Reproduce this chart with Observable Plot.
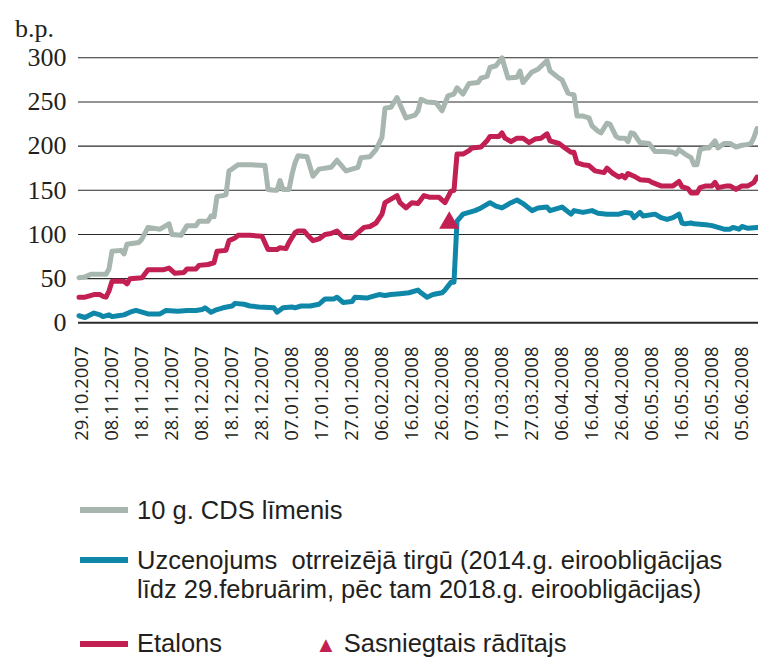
<!DOCTYPE html>
<html>
<head>
<meta charset="utf-8">
<script src="https://cdn.jsdelivr.net/npm/d3@7"></script>
<script src="https://cdn.jsdelivr.net/npm/@observablehq/plot@0.6"></script>
<style>
  html, body { margin: 0; padding: 0; background: #fff; }
  #wrap { position: relative; width: 758px; height: 658px; overflow: hidden; background: #fff; }
  #chart { position: absolute; left: 0; top: 0; }
  .unit { position: absolute; left: 15px; top: 14px; font-family: "Liberation Serif", serif; font-size: 26px; color: #231f20; }
  .lg { position: absolute; font-family: "Liberation Sans", Arial, sans-serif; font-size: 25.5px; height: 28px; line-height: 28px; color: #231f20; white-space: nowrap; }
  .sw { position: absolute; left: 80px; width: 48px; height: 6px; }
</style>
</head>
<body>
<div id="wrap">
  <div id="chart"></div>
  <div class="unit">b.p.</div>
  <div class="sw" style="top:507px;background:#a7b6ae"></div>
  <div class="lg" style="left:137px;top:496px">10 g. CDS līmenis</div>
  <div class="sw" style="top:557px;background:#0f87a9"></div>
  <div class="lg" style="left:137px;top:546px">Uzcenojums&nbsp; otrreizējā tirgū (2014.g. eiroobligācijas</div>
  <div class="lg" style="left:137px;top:575px">līdz 29.februārim, pēc tam 2018.g. eiroobligācijas)</div>
  <div class="sw" style="top:641px;background:#c21f52"></div>
  <div class="lg" style="left:137px;top:630px;height:26px;line-height:26px">Etalons</div>
  <div class="lg" style="left:315px;top:630px;height:26px;line-height:26px"><span style="color:#c21f52;font-size:22px">▲</span> Sasniegtais rādītajs</div>
</div>
<script>
const yTicks = [0, 50, 100, 150, 200, 250, 300];
const xTicks = ["2007-10-29","2007-11-08","2007-11-18","2007-11-28","2007-12-08","2007-12-18","2007-12-28",
  "2008-01-07","2008-01-17","2008-01-27","2008-02-06","2008-02-16","2008-02-26","2008-03-07","2008-03-17",
  "2008-03-27","2008-04-06","2008-04-16","2008-04-26","2008-05-06","2008-05-16","2008-05-26","2008-06-05"];

const cds = [
["2007-10-26",51],["2007-10-28",52],["2007-10-30",55],["2007-11-04",55],["2007-11-05",61],["2007-11-06",81],
["2007-11-09",82],["2007-11-10",78],["2007-11-11",89],["2007-11-15",91],["2007-11-16",95],["2007-11-18",108],
["2007-11-22",106],["2007-11-25",112],["2007-11-26",100],["2007-11-29",99],["2007-12-01",110],["2007-12-04",110],
["2007-12-05",115],["2007-12-08",115],["2007-12-09",121],["2007-12-10",120],["2007-12-11",143],["2007-12-13",144],
["2007-12-14",145],["2007-12-15",172],["2007-12-16",174],["2007-12-18",179],["2007-12-22",179],["2007-12-27",178],
["2007-12-28",151],["2007-12-30",150],["2007-12-31",150],["2008-01-01",161],["2008-01-02",151],["2008-01-04",151],
["2008-01-05",168],["2008-01-06",181],["2008-01-07",189],["2008-01-10",188],["2008-01-12",166],["2008-01-14",174],
["2008-01-18",176],["2008-01-20",184],["2008-01-23",172],["2008-01-27",176],["2008-01-28",187],["2008-01-31",188],
["2008-02-02",196],["2008-02-04",210],["2008-02-05",243],["2008-02-07",244],["2008-02-09",255],["2008-02-10",247],
["2008-02-12",232],["2008-02-15",235],["2008-02-16",240],["2008-02-17",253],["2008-02-19",250],["2008-02-22",249],
["2008-02-24",240],["2008-02-26",257],["2008-02-28",259],["2008-02-29",266],["2008-03-02",259],["2008-03-04",271],
["2008-03-07",272],["2008-03-08",277],["2008-03-10",279],["2008-03-11",289],["2008-03-13",291],["2008-03-15",300],
["2008-03-17",277],["2008-03-20",278],["2008-03-21",285],["2008-03-22",272],["2008-03-25",284],["2008-03-27",287],
["2008-03-30",297],["2008-03-31",285],["2008-04-03",277],["2008-04-04",275],["2008-04-06",260],["2008-04-08",258],
["2008-04-09",234],["2008-04-11",234],["2008-04-13",232],["2008-04-14",223],["2008-04-16",217],["2008-04-17",215],
["2008-04-19",226],["2008-04-20",225],["2008-04-22",211],["2008-04-23",209],["2008-04-25",209],["2008-04-26",205],
["2008-04-27",215],["2008-04-28",214],["2008-04-30",204],["2008-05-03",203],["2008-05-05",194],["2008-05-08",194],
["2008-05-11",193],["2008-05-12",191],["2008-05-13",196],["2008-05-15",191],["2008-05-17",187],["2008-05-18",179],
["2008-05-19",179],["2008-05-20",196],["2008-05-22",198],["2008-05-23",198],["2008-05-25",206],["2008-05-26",198],
["2008-05-28",203],["2008-05-30",203],["2008-06-01",199],["2008-06-03",201],["2008-06-05",202],["2008-06-06",203],
["2008-06-07",210],["2008-06-08",220]
];

const etalons = [
["2007-10-26",29],["2007-10-28",29],["2007-10-31",32],["2007-11-02",32],["2007-11-03",30],["2007-11-04",29],
["2007-11-05",36],["2007-11-06",47],["2007-11-10",47],["2007-11-11",44],["2007-11-12",50],["2007-11-16",51],
["2007-11-18",60],["2007-11-23",60],["2007-11-25",62],["2007-11-27",56],["2007-11-30",57],["2007-12-01",61],
["2007-12-04",61],["2007-12-05",65],["2007-12-08",66],["2007-12-10",68],["2007-12-11",81],["2007-12-14",82],
["2007-12-15",93],["2007-12-17",96],["2007-12-18",99],["2007-12-22",99],["2007-12-26",98],["2007-12-28",83],
["2007-12-31",83],["2008-01-01",85],["2008-01-03",84],["2008-01-04",91],["2008-01-06",102],["2008-01-07",104],
["2008-01-09",104],["2008-01-10",100],["2008-01-12",93],["2008-01-14",95],["2008-01-16",100],["2008-01-18",101],
["2008-01-20",104],["2008-01-22",97],["2008-01-25",96],["2008-01-27",102],["2008-01-29",108],["2008-01-31",109],
["2008-02-02",113],["2008-02-04",123],["2008-02-05",136],["2008-02-06",138],["2008-02-09",144],["2008-02-10",136],
["2008-02-12",130],["2008-02-14",136],["2008-02-16",135],["2008-02-18",144],["2008-02-20",142],["2008-02-23",142],
["2008-02-25",136],["2008-02-27",149],["2008-02-28",150],["2008-02-29",191],["2008-03-02",191],["2008-03-04",195],
["2008-03-05",198],["2008-03-08",199],["2008-03-10",206],["2008-03-11",211],["2008-03-14",211],["2008-03-15",215],
["2008-03-16",209],["2008-03-18",205],["2008-03-20",209],["2008-03-22",209],["2008-03-24",204],["2008-03-26",208],
["2008-03-28",209],["2008-03-30",214],["2008-03-31",206],["2008-04-03",203],["2008-04-05",198],["2008-04-07",193],
["2008-04-08",193],["2008-04-09",181],["2008-04-11",179],["2008-04-13",178],["2008-04-15",172],["2008-04-18",170],
["2008-04-19",175],["2008-04-21",169],["2008-04-23",165],["2008-04-24",167],["2008-04-25",164],["2008-04-26",169],
["2008-04-28",166],["2008-04-30",162],["2008-05-03",161],["2008-05-04",159],["2008-05-07",155],["2008-05-11",155],
["2008-05-13",160],["2008-05-14",154],["2008-05-16",152],["2008-05-17",147],["2008-05-19",147],["2008-05-20",153],
["2008-05-22",155],["2008-05-24",155],["2008-05-25",159],["2008-05-26",153],["2008-05-29",155],["2008-05-30",155],
["2008-06-01",151],["2008-06-03",155],["2008-06-05",155],["2008-06-07",159],["2008-06-08",165]
];

const uzcenojums = [
["2007-10-26",8],["2007-10-28",6],["2007-10-31",11],["2007-11-02",9],["2007-11-03",7],["2007-11-05",9],
["2007-11-06",7],["2007-11-08",8],["2007-11-10",9],["2007-11-12",12],["2007-11-14",14],["2007-11-16",12],
["2007-11-18",10],["2007-11-22",10],["2007-11-24",14],["2007-11-28",13],["2007-12-01",14],["2007-12-04",14],
["2007-12-06",15],["2007-12-07",17],["2007-12-09",12],["2007-12-11",15],["2007-12-13",17],["2007-12-16",19],
["2007-12-17",22],["2007-12-20",21],["2007-12-22",19],["2007-12-25",18],["2007-12-30",17],["2007-12-31",12],
["2008-01-02",17],["2008-01-05",18],["2008-01-06",17],["2008-01-08",19],["2008-01-11",19],["2008-01-14",21],
["2008-01-16",27],["2008-01-19",27],["2008-01-20",29],["2008-01-22",23],["2008-01-25",24],["2008-01-26",29],
["2008-01-30",28],["2008-01-31",29],["2008-02-03",32],["2008-02-05",31],["2008-02-07",32],["2008-02-10",33],
["2008-02-13",34],["2008-02-16",37],["2008-02-17",34],["2008-02-19",29],["2008-02-21",32],["2008-02-24",34],
["2008-02-25",37],["2008-02-27",46],["2008-02-28",46],["2008-02-29",115],["2008-03-02",123],["2008-03-04",125],
["2008-03-06",127],["2008-03-08",130],["2008-03-11",136],["2008-03-13",132],["2008-03-15",130],["2008-03-18",136],
["2008-03-20",139],["2008-03-22",135],["2008-03-25",127],["2008-03-27",130],["2008-03-30",131],["2008-03-31",127],
["2008-04-04",131],["2008-04-07",123],["2008-04-08",127],["2008-04-11",125],["2008-04-14",127],["2008-04-16",124],
["2008-04-19",123],["2008-04-23",123],["2008-04-25",125],["2008-04-27",124],["2008-04-28",119],["2008-04-30",125],
["2008-05-01",121],["2008-05-05",123],["2008-05-07",119],["2008-05-09",117],["2008-05-11",119],["2008-05-13",123],
["2008-05-14",113],["2008-05-15",112],["2008-05-17",113],["2008-05-18",112],["2008-05-22",111],["2008-05-24",110],
["2008-05-26",108],["2008-05-28",106],["2008-05-30",106],["2008-05-31",108],["2008-06-02",106],["2008-06-03",109],
["2008-06-05",107],["2008-06-08",108]
];

const target = [["2008-02-26T10:00:00Z", 113]];

const colors = { cds: "#a7b6ae", uzc: "#0f87a9", etalons: "#c21f52" };

const parse = s => new Date(s.length === 10 ? s + "T00:00:00Z" : s);
const toRows = arr => arr.map(([d, v]) => ({ date: parse(d), value: v }));
const fmt = d3.utcFormat("%d.%m.%Y");
const xStart = new Date("2007-10-25T20:00:00Z");
const xEnd = new Date("2008-06-08T12:00:00Z");

const chart = Plot.plot({
  width: 758,
  height: 500,
  marginLeft: 66,
  marginRight: 0,
  marginTop: 57,
  marginBottom: 500 - 346,
  style: { background: "#fff", overflow: "visible" },
  x: { type: "utc", domain: [xStart, xEnd], range: [78, 758], axis: null },
  y: { domain: [0, 300], range: [322.3, 57.3], axis: null },
  marks: [
    Plot.ruleY(yTicks.filter(v => v > 0), { y: d => d, x1: xStart, x2: xEnd, stroke: "#2a2a2a", strokeWidth: 1.1 }),
    Plot.ruleY([0], { y: d => d, x1: xStart, x2: xEnd, stroke: "#2a2a2a", strokeWidth: 2 }),
    Plot.line(toRows(cds), { x: "date", y: "value", stroke: colors.cds, strokeWidth: 5, strokeLinejoin: "round" }),
    Plot.line(toRows(etalons), { x: "date", y: "value", stroke: colors.etalons, strokeWidth: 5, strokeLinejoin: "round" }),
    Plot.line(toRows(uzcenojums), { x: "date", y: "value", stroke: colors.uzc, strokeWidth: 5, strokeLinejoin: "round" }),
    Plot.dot(toRows(target), { x: "date", y: "value", symbol: "triangle", fill: colors.etalons, stroke: "none", r: 7.5 }),
    Plot.text(yTicks, { y: d => d, text: d => String(d), frameAnchor: "left", textAnchor: "end",
      fontFamily: "Liberation Serif, serif", fontSize: 26, fill: "#231f20" }),
    Plot.text(xTicks.map(parse), { x: d => d, text: d => fmt(d), frameAnchor: "bottom", textAnchor: "end",
      rotate: -90, fontFamily: "Open Sans, sans-serif", fontSize: 18.5, fill: "#231f20" })
  ]
});
document.getElementById("chart").appendChild(chart);
</script>
</body>
</html>
